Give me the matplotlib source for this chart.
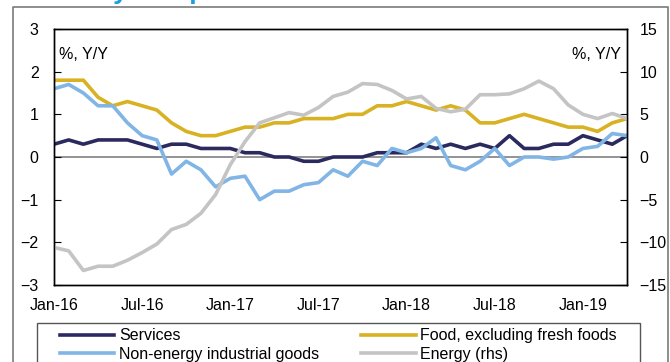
import numpy as np
import matplotlib
matplotlib.use("Agg")
import matplotlib.pyplot as plt
from matplotlib.lines import Line2D
from matplotlib.patches import Rectangle

plt.rcParams["font.family"] = ["Liberation Sans", "DejaVu Sans"]

# monthly data, Jan-16 .. Apr-19
tick_labels = ["Jan-16", "Jul-16", "Jan-17", "Jul-17", "Jan-18", "Jul-18", "Jan-19"]
services = [0.3, 0.4, 0.3, 0.4, 0.4, 0.4, 0.3, 0.2, 0.3, 0.3,
            0.2, 0.2, 0.2, 0.1, 0.1, 0.0, 0.0, -0.1, -0.1, 0.0,
            0.0, 0.0, 0.1, 0.1, 0.1, 0.3, 0.2, 0.3, 0.2, 0.3,
            0.2, 0.5, 0.2, 0.2, 0.3, 0.3, 0.5, 0.4, 0.3, 0.5]
non_energy = [1.6, 1.7, 1.5, 1.2, 1.2, 0.8, 0.5, 0.4, -0.4, -0.1,
              -0.3, -0.7, -0.5, -0.45, -1.0, -0.8, -0.8, -0.65, -0.6, -0.3,
              -0.45, -0.1, -0.2, 0.2, 0.1, 0.2, 0.45, -0.2, -0.3, -0.1,
              0.2, -0.2, 0.0, 0.0, -0.05, 0.0, 0.2, 0.25, 0.55, 0.5]
food = [1.8, 1.8, 1.8, 1.4, 1.2, 1.3, 1.2, 1.1, 0.8, 0.6,
        0.5, 0.5, 0.6, 0.7, 0.7, 0.8, 0.8, 0.9, 0.9, 0.9,
        1.0, 1.0, 1.2, 1.2, 1.3, 1.2, 1.1, 1.2, 1.1, 0.8,
        0.8, 0.9, 1.0, 0.9, 0.8, 0.7, 0.7, 0.6, 0.8, 0.9]
energy = [-10.6, -11.0, -13.3, -12.8, -12.8, -12.1, -11.2, -10.2, -8.5, -7.9,
          -6.6, -4.4, -0.9, 1.8, 4.0, 4.6, 5.2, 4.9, 5.8, 7.1,
          7.6, 8.6, 8.5, 7.8, 6.8, 7.1, 5.7, 5.3, 5.6, 7.3,
          7.3, 7.4, 8.0, 8.9, 8.0, 6.1, 5.0, 4.5, 5.1, 4.5]

x = np.arange(len(services))

W, H = 670, 362
fig = plt.figure(figsize=(W / 100, H / 100), dpi=100)
ax = fig.add_axes([54 / W, 1 - 285 / H, (627 - 54) / W, (285 - 29) / H])
ax2 = ax.twinx()

ax.axhline(0, color="#808080", lw=1.2, zorder=1)
l1, = ax.plot(x, services, color="#2b2a5e", lw=2.6, label="Services")
l3, = ax.plot(x, food, color="#d8b222", lw=2.6, label="Food, excluding fresh foods")
l2, = ax.plot(x, non_energy, color="#80b5e6", lw=2.6, label="Non-energy industrial goods")
l4, = ax2.plot(x, energy, color="#c4c4c4", lw=2.6, label="Energy (rhs)")

ax.set_xlim(0, len(x) - 1)
ax.set_ylim(-3, 3)
ax2.set_ylim(-15, 15)
ax.set_yticks(range(-3, 4))
ax2.set_yticks(range(-15, 16, 5))
ax.set_xticks(range(0, len(x), 6))
ax.set_xticklabels(tick_labels)

ax.tick_params(axis="y", direction="in", length=5, labelsize=11.5, pad=11)
ax2.tick_params(axis="y", direction="in", length=5, labelsize=11.5, pad=9)
ax.tick_params(axis="x", length=0, labelsize=11.5, pad=9)
for a in (ax, ax2):
    for s in a.spines.values():
        s.set_linewidth(1.0)
        s.set_color("black")

ax.text(0.009, 0.9, "%, Y/Y", transform=ax.transAxes, fontsize=11.5, va="center")
ax2.text(0.99, 0.9, "%, Y/Y", transform=ax.transAxes, fontsize=11.5, va="center", ha="right")

# outer frame and the title, cut off at the top like in the source
fig.add_artist(Line2D([13 / W, 13 / W, 668 / W, 668 / W], [-0.1, 1 - 7 / H, 1 - 7 / H, -0.1],
                      color="#7a7a7a", lw=1.2))
fig.text(97 / W, 1 + 1 / H, "by component", color="#1a9fe0", fontsize=19,
         fontweight="bold", va="baseline")

# legend
fig.add_artist(Rectangle((37 / W, -0.1), (640 - 37) / W, 0.1 + 1 - 323 / H,
                         fill=False, ec="#555555", lw=1.0))
fig.legend([l1, l2, l3, l4], [h.get_label() for h in (l1, l2, l3, l4)],
           ncol=2, loc="upper left", mode="expand",
           bbox_to_anchor=(60 / W, 1 - 332 / H, (617 - 60) / W, 0.01),
           frameon=False, fontsize=11.5, borderpad=0, borderaxespad=0,
           handlelength=3.4, handletextpad=0.3, labelspacing=0.2)

fig.savefig("out.png", dpi=100)
